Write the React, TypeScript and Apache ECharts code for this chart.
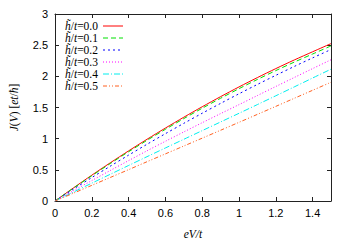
import React, { useEffect, useRef } from "react";
import * as echarts from "echarts";

const xs = [0, 0.1, 0.2, 0.3, 0.4, 0.5, 0.6, 0.7, 0.8, 0.9, 1.0, 1.1, 1.2, 1.3, 1.4, 1.5];
const h00 = [0, 0.21, 0.414, 0.612, 0.804, 0.99, 1.17, 1.344, 1.512, 1.674, 1.83, 1.98, 2.124, 2.262, 2.394, 2.525];
const h01 = [0, 0.205, 0.405, 0.6, 0.79, 0.973, 1.15, 1.322, 1.488, 1.648, 1.802, 1.95, 2.092, 2.228, 2.358, 2.488];
const h02 = [0, 0.19, 0.376, 0.558, 0.736, 0.91, 1.08, 1.246, 1.408, 1.566, 1.72, 1.87, 2.016, 2.158, 2.296, 2.43];
const h03 = [0, 0.165, 0.328, 0.489, 0.648, 0.805, 0.958, 1.108, 1.256, 1.402, 1.546, 1.692, 1.837, 1.981, 2.124, 2.266];
const h04 = [0, 0.143, 0.286, 0.428, 0.57, 0.711, 0.851, 0.99, 1.129, 1.268, 1.407, 1.547, 1.688, 1.83, 1.973, 2.115];
const h05 = [0, 0.125, 0.251, 0.377, 0.503, 0.63, 0.756, 0.882, 1.008, 1.135, 1.262, 1.39, 1.518, 1.647, 1.776, 1.905];

const seriesNames = ["0.0", "0.1", "0.2", "0.3", "0.4", "0.5"];
const seriesValues = [h00, h01, h02, h03, h04, h05];
const colors = ["#ff0000", "#00e000", "#0000ff", "#ff00ff", "#00eeee", "#ff6020"];
const dashes: any[] = ["solid", [5, 3], [2, 3], [1, 2], [6, 2, 1, 2], [4, 2, 1, 2, 1, 2]];

const xTicks = { min: 0, max: 1.5, interval: 0.2 };
const yTicks = { min: 0, max: 3, interval: 0.5 };

export default function App() {
  const ref = useRef<HTMLDivElement>(null);
  useEffect(() => {
    if (!ref.current) return;
    const chart = echarts.init(ref.current, undefined, { renderer: "svg" });
    const axisLine = { show: true, onZero: false, lineStyle: { color: "#222", width: 1 } };
    const tick = { show: true, inside: true, length: 4, lineStyle: { color: "#222", width: 1 } };
    const label = { color: "#000", fontFamily: "Liberation Sans", fontSize: 11 };
    const serif = "Liberation Serif";
    chart.setOption({
      animation: false,
      grid: { left: 51, right: 19, top: 14, bottom: 34 },
      legend: {
        orient: "vertical",
        left: 65,
        top: 20,
        padding: 0,
        itemGap: 0,
        itemWidth: 20,
        itemHeight: 10,
        align: "right",
        selectedMode: false,
        itemStyle: { opacity: 0 },
        lineStyle: { width: 1 },
        formatter: (name: string) => "{i|h\u0303}/{i|t}=" + name.split("=")[1],
        textStyle: {
          fontFamily: serif,
          fontSize: 11.5,
          color: "#000",
          lineHeight: 11.5,
          rich: {
            i: { fontFamily: serif, fontStyle: "italic", fontSize: 11.5, lineHeight: 11.5 },
          },
        },
      },
      xAxis: [
        {
          type: "value",
          ...xTicks,
          axisLine,
          axisTick: tick,
          splitLine: { show: false },
          axisLabel: { ...label, margin: 6, showMaxLabel: false },
          name: "eV/t",
          nameLocation: "middle",
          nameGap: 27,
          nameTextStyle: { fontFamily: serif, fontStyle: "italic", fontSize: 11.5, color: "#000" },
        },
        {
          type: "value",
          position: "top",
          ...xTicks,
          axisLine,
          axisTick: tick,
          splitLine: { show: false },
          axisLabel: { show: false },
        },
      ],
      yAxis: [
        {
          type: "value",
          ...yTicks,
          axisLine,
          axisTick: tick,
          splitLine: { show: false },
          axisLabel: { ...label, margin: 7 },
          name: "{i|J}({i|V}) [{i|et}/{i|\u0127}]",
          nameLocation: "middle",
          nameGap: 35,
          nameRotate: 90,
          nameTextStyle: {
            fontFamily: serif,
            fontSize: 11.5,
            color: "#000",
            rich: { i: { fontFamily: serif, fontStyle: "italic", fontSize: 11.5, color: "#000" } },
          },
        },
        {
          type: "value",
          position: "right",
          ...yTicks,
          axisLine,
          axisTick: tick,
          splitLine: { show: false },
          axisLabel: { show: false },
        },
      ],
      series: seriesValues.map((vals, i) => ({
        type: "line",
        name: "h\u0303/t=" + seriesNames[i],
        data: xs.map((x, j) => [x, vals[j]]),
        showSymbol: false,
        symbol: "none",
        smooth: 0.3,
        color: colors[i],
        lineStyle: { color: colors[i], width: 1, type: dashes[i] },
        xAxisIndex: 0,
        yAxisIndex: 0,
      })),
    });
    return () => chart.dispose();
  }, []);
  return <div ref={ref} style={{ width: 350, height: 245, position: "absolute", left: 0, top: 0 }} />;
}
